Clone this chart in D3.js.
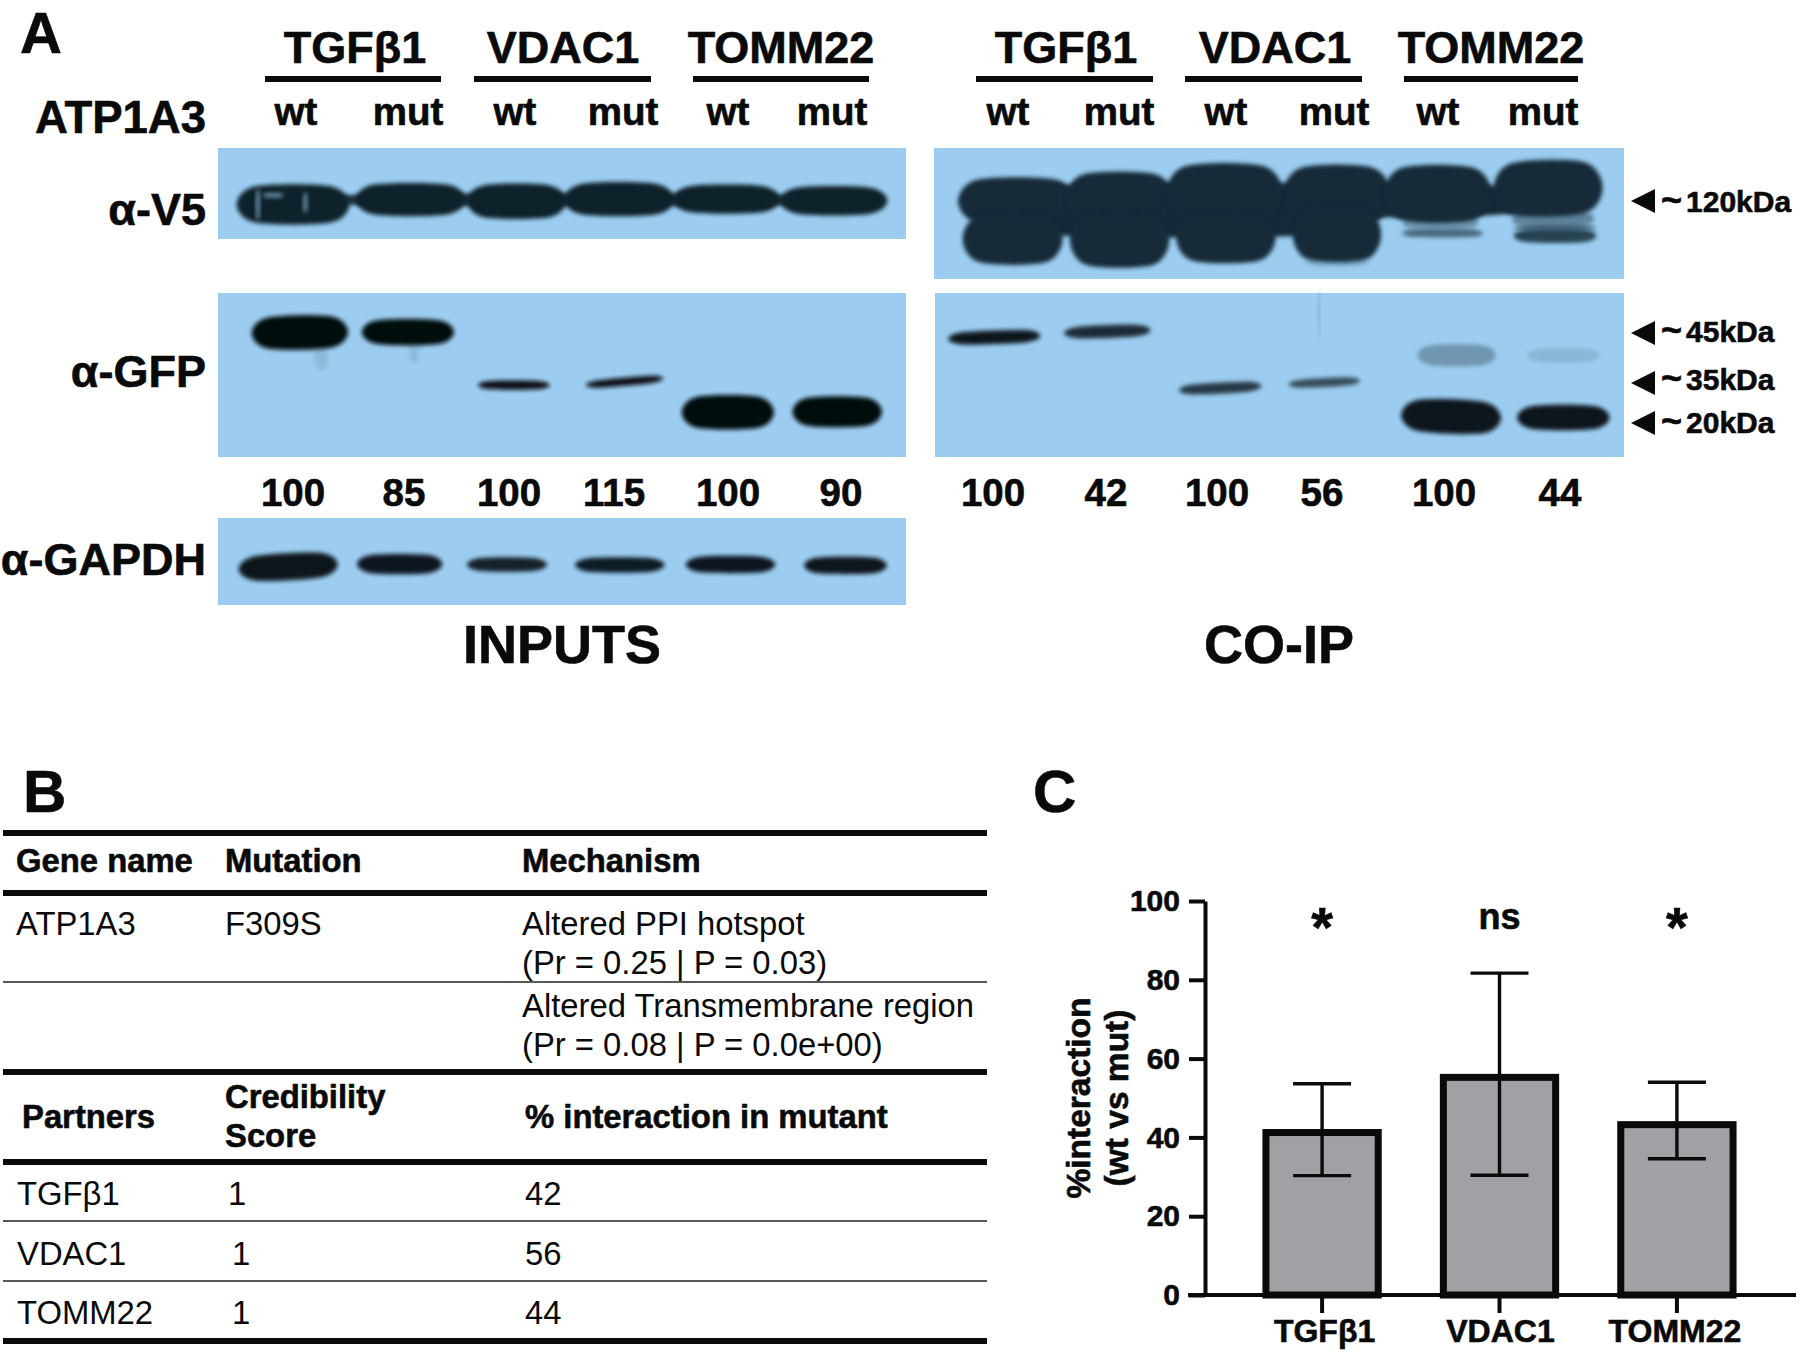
<!DOCTYPE html>
<html>
<head>
<meta charset="utf-8">
<title>ATP1A3 co-IP</title>
<script src="https://cdn.jsdelivr.net/npm/d3@7"></script>
<style>
  body { margin: 0; background: #fff; }
  svg { display: block; }
  text { font-family: "Liberation Sans", Arial, sans-serif; fill: #0a0a0a; }
  .b { font-weight: bold; stroke: #0a0a0a; stroke-width: 0.6px; }
</style>
</head>
<body>
<div id="figure"></div>
<script>
// panel A text
const partnerNames = ["TGFβ1", "VDAC1", "TOMM22"];
const laneNames = ["wt", "mut", "wt", "mut", "wt", "mut"];
const inputPercent = [100, 85, 100, 115, 100, 90];
const coipPercent = [100, 42, 100, 56, 100, 44];
const kdaLabels = ["120kDa", "45kDa", "35kDa", "20kDa"];

// blot bands, read off the picture as % of the blot:
// [lane centre, migration, band width, band thickness, density, tilt deg]
const inputV5Bands = [
  [50, 57, 84, 12, 0.9, 0],
  [10.9, 62, 16.4, 40, 1, 0],
  [28, 56.7, 16, 33, 1, 0],
  [43.4, 58.6, 14.4, 35, 1, 0],
  [58.3, 56.2, 16, 34, 1, 0],
  [73.9, 56.2, 15.6, 29, 1, 0],
  [89.5, 58, 15.6, 29, 1, 0],
  [5.8, 62, 0.5, 30, 0.25, 0],
  [12.7, 60, 0.5, 20, 0.25, 0],
  [8, 52, 3, 4, 0.3, 0]
];
const inputGfpBands = [
  [15, 40, 2, 12, 0.1, 0],
  [28.5, 36, 1.4, 12, 0.1, 0],
  [11.9, 24.1, 14, 19, 1, -1],
  [27.6, 23.9, 13.4, 14.5, 1, 0],
  [43, 56.2, 10.4, 5, 0.98, 0],
  [59.1, 54.1, 11.3, 4.5, 0.98, -5],
  [74.1, 72.7, 13.4, 19, 1, 0],
  [90, 72.4, 13, 17, 1, 0]
];
const inputGapdhBands = [
  [10.2, 56, 14.4, 28, 1, -3],
  [26.4, 53, 12.4, 21, 0.97, 0],
  [42, 53.5, 11.6, 15, 0.92, 0],
  [58.4, 54, 13, 16, 0.94, 0],
  [74.5, 53.5, 13, 18, 0.97, 0],
  [91.2, 54.5, 12, 18, 0.98, 0]
];
const coipV5Bands = [
  [58.4, 87, 9, 6, 0.2, 0],
  [73.4, 57, 11, 10, 0.35, 0],
  [89.7, 54, 12, 12, 0.45, 0],
  [50, 40, 84, 24, 1, 0],
  [36, 55, 52, 24, 1, 0],
  [12, 40.6, 17, 33, 1, 0],
  [26.9, 38.6, 15.6, 37, 1, 0],
  [42.1, 35.3, 17, 43, 1, 0],
  [58.4, 36, 15.6, 42, 1, 0],
  [73, 35, 15.6, 40, 1, 0],
  [89, 30.7, 15.8, 39, 1, -1],
  [11.4, 69.3, 14.5, 36, 1, 0],
  [26.9, 70.3, 14.4, 38, 1, 0],
  [42.3, 68.6, 14.4, 35, 1, 0],
  [58.4, 66, 12.8, 38, 1, 0],
  [73.7, 65, 11.8, 6, 0.62, 0],
  [90, 67, 12, 10, 0.85, 0],
  [90, 61, 12, 3, 0.8, 0]
];
const coipGfpBands = [
  [8.6, 27, 13.4, 7.5, 0.98, -2],
  [25, 23.5, 12.6, 7, 0.88, -2],
  [41.4, 58, 12, 6, 0.8, -3],
  [56.5, 54.6, 10.4, 5, 0.7, -3],
  [75.7, 38, 11.4, 12, 0.3, 0],
  [91.2, 38, 10.6, 8, 0.12, 0],
  [74.9, 75.3, 14.5, 19, 1, 2],
  [91.2, 75.9, 13.4, 14, 1, 0],
  [55.7, 13, 0.2, 26, 0.3, 0]
];

// panel B table
const tableHead1 = ["Gene name", "Mutation", "Mechanism"];
const mutationRow = ["ATP1A3", "F309S"];
const mechanismLines = [
  "Altered PPI hotspot",
  "(Pr = 0.25 | P = 0.03)",
  "Altered Transmembrane region",
  "(Pr = 0.08 | P = 0.0e+00)"
];
const tableHead2 = ["Partners", "Credibility", "Score", "% interaction in mutant"];
const credibility = [1, 1, 1];

// panel C bars
const interaction = [42, 56, 44];
const errLow = [30.3, 30.4, 34.6];
const errHigh = [53.6, 81.7, 54];
const significance = ["*", "ns", "*"];
const yTicks = [0, 20, 40, 60, 80, 100];

const blotBlue = "#9ccdf0";
const svg = d3.select("#figure").append("svg")
    .attr("width", 1800)
    .attr("height", 1354);

const defs = svg.append("defs");
defs.append("filter").attr("id", "soft")
    .attr("x", "-60%").attr("y", "-80%").attr("width", "220%").attr("height", "260%")
    .append("feGaussianBlur").attr("stdDeviation", 2.2);

function label(txt, x, y, size, opts) {
    opts = opts || {};
    return svg.append("text")
        .attr("class", opts.bold === false ? null : "b")
        .attr("x", x)
        .attr("y", y)
        .attr("font-size", size)
        .attr("text-anchor", opts.anchor || "middle")
        .text(txt);
}

// lens shaped band outline
const bandLine = d3.line().curve(d3.curveCardinalClosed.tension(0.1));
function bandPath(w, h) {
    return bandLine([[-w / 2, 0], [-w * 0.33, -h / 2], [w * 0.33, -h / 2],
        [w / 2, 0], [w * 0.33, h / 2], [-w * 0.33, h / 2]]);
}

function addBlot(x0, x1, y0, y1, bands, ink) {
    const g = svg.append("g");
    g.append("rect")
        .attr("x", x0).attr("y", y0)
        .attr("width", x1 - x0).attr("height", y1 - y0)
        .attr("fill", blotBlue);
    const x = d3.scaleLinear().domain([0, 100]).range([x0, x1]);
    const y = d3.scaleLinear().domain([0, 100]).range([y0, y1]);
    const shade = d3.interpolateRgb(blotBlue, ink);
    g.selectAll("path")
        .data(bands)
        .join("path")
        .attr("d", d => bandPath(x(d[2]) - x0, y(d[3]) - y0))
        .attr("transform", d => `translate(${x(d[0])},${y(d[1])}) rotate(${d[5]})`)
        .attr("fill", d => shade(d[4]))
        .attr("filter", "url(#soft)");
}

addBlot(218, 906, 148, 239, inputV5Bands, "#0e2029");
addBlot(218, 906, 293, 457, inputGfpBands, "#060c10");
addBlot(218, 906, 518, 605, inputGapdhBands, "#08131a");
addBlot(934, 1624, 148, 279, coipV5Bands, "#122a37");
addBlot(935, 1624, 293, 457, coipGfpBands, "#08131a");

// panel A labels
label("A", 20, 52.5, 58, { anchor: "start" });
label("ATP1A3", 206, 133, 45.5, { anchor: "end" });
label("α-V5", 206, 225, 45, { anchor: "end" });
label("α-GFP", 206, 387, 45, { anchor: "end" });
label("α-GAPDH", 206, 575, 45, { anchor: "end" });
label("INPUTS", 562, 663, 54);
label("CO-IP", 1279, 663, 54);

const headerX = [[355, 563, 781], [1066, 1275, 1491]];
const barX = [[[265, 441], [474, 651], [693, 869]], [[976, 1153], [1185, 1362], [1404, 1578]]];
const wtX = [[296, 408, 515, 623, 728, 832], [1008, 1119, 1226, 1334, 1438, 1543]];
const numX = [[293, 404, 509, 614, 728, 841], [993, 1106, 1217, 1322, 1444, 1560]];
[inputPercent, coipPercent].forEach((pct, s) => {
    partnerNames.forEach((p, i) => {
        label(p, headerX[s][i], 63, 45);
        svg.append("rect")
            .attr("x", barX[s][i][0]).attr("y", 76)
            .attr("width", barX[s][i][1] - barX[s][i][0]).attr("height", 6)
            .attr("fill", "#0a0a0a");
    });
    laneNames.forEach((n, i) => {
        label(n, wtX[s][i], 125, 38.5);
        label(pct[i], numX[s][i], 506, 38.5);
    });
});

// kDa markers
const kdaTip = [201, 333, 383, 423];
const kdaBase = [212, 342, 390, 433];
kdaLabels.forEach((k, i) => {
    svg.append("path")
        .attr("d", d3.line()([[1631, kdaTip[i]], [1655, kdaTip[i] - 12], [1655, kdaTip[i] + 12]]))
        .attr("fill", "#0a0a0a");
    const t = label("", 1661, kdaBase[i], 30, { anchor: "start" });
    t.append("tspan").attr("font-size", 36).text("~");
    t.append("tspan").attr("dx", 4).text(k);
});

// panel B
label("B", 23, 812, 60, { anchor: "start" });
const thick = [833, 893, 1072, 1162, 1341];
const thin = [982, 1221, 1281];
thick.forEach(y => svg.append("line")
    .attr("x1", 3).attr("x2", 987).attr("y1", y).attr("y2", y)
    .attr("stroke", "#0a0a0a").attr("stroke-width", 6));
thin.forEach(y => svg.append("line")
    .attr("x1", 3).attr("x2", 987).attr("y1", y).attr("y2", y)
    .attr("stroke", "#222").attr("stroke-width", 1.6));

const colX = [16, 225, 522];
tableHead1.forEach((t, i) => label(t, colX[i], 872, 32.8, { anchor: "start" }));
mutationRow.forEach((t, i) => label(t, colX[i], 935, 32.8, { anchor: "start", bold: false }));
const mechY = [935, 974, 1017, 1056];
mechanismLines.forEach((t, i) => label(t, colX[2], mechY[i], 32.8, { anchor: "start", bold: false }));
label(tableHead2[0], 22, 1128, 32.8, { anchor: "start" });
label(tableHead2[1], 225, 1108, 32.8, { anchor: "start" });
label(tableHead2[2], 225, 1147, 32.8, { anchor: "start" });
label(tableHead2[3], 525, 1128, 32.8, { anchor: "start" });
const rowY = [1205, 1265, 1324];
const scoreX = [228, 232, 232];
partnerNames.forEach((p, i) => {
    label(p, 17, rowY[i], 32.8, { anchor: "start", bold: false });
    label(credibility[i], scoreX[i], rowY[i], 32.8, { anchor: "start", bold: false });
    label(interaction[i], 525, rowY[i], 32.8, { anchor: "start", bold: false });
});

// panel C
label("C", 1033, 812, 60, { anchor: "start" });
const x = d3.scaleBand().domain(partnerNames).range([1234, 1765]).paddingInner(0.367).paddingOuter(0.18);
const y = d3.scaleLinear().domain([0, 100]).range([1295, 901]);
const barStroke = 7;

const chart = svg.append("g");
chart.selectAll("rect.bar")
    .data(partnerNames)
    .join("rect")
    .attr("class", "bar")
    .attr("x", d => x(d))
    .attr("width", x.bandwidth())
    .attr("y", (d, i) => y(interaction[i]) + 3)
    .attr("height", (d, i) => y(0) - y(interaction[i]) - 3)
    .attr("fill", "#a0a1a5")
    .attr("stroke", "#0a0a0a")
    .attr("stroke-width", barStroke);

partnerNames.forEach((p, i) => {
    const cx = x(p) + x.bandwidth() / 2;
    const err = chart.append("g").attr("stroke", "#0a0a0a").attr("stroke-width", 3.4);
    err.append("line").attr("x1", cx).attr("x2", cx).attr("y1", y(errLow[i])).attr("y2", y(errHigh[i]));
    [errLow[i], errHigh[i]].forEach(v => err.append("line")
        .attr("x1", cx - 29).attr("x2", cx + 29).attr("y1", y(v)).attr("y2", y(v)));
    const star = significance[i] == "*";
    label(significance[i], cx, star ? 946 : 929, star ? 56 : 36);
});

const yAxis = chart.append("g")
    .attr("transform", "translate(1205,0)")
    .call(d3.axisLeft(y).tickValues(yTicks).tickSize(16).tickPadding(9).tickSizeOuter(0));
yAxis.select(".domain").attr("stroke", "#0a0a0a").attr("stroke-width", 4);
yAxis.selectAll(".tick line").attr("stroke", "#0a0a0a").attr("stroke-width", 4);
yAxis.selectAll(".tick text")
    .attr("class", "b")
    .attr("font-size", 30)
    .attr("font-family", null);

const xAxis = chart.append("g")
    .attr("transform", "translate(0,1295)")
    .call(d3.axisBottom(x).tickSize(18).tickPadding(6).tickSizeOuter(0));
xAxis.select(".domain").remove();
xAxis.selectAll(".tick line").attr("stroke", "#0a0a0a").attr("stroke-width", 4);
const labelNudge = [2.5, 1, -2];
xAxis.selectAll(".tick text")
    .attr("class", "b")
    .attr("font-size", 32)
    .attr("font-family", null)
    .attr("dx", (d, i) => labelNudge[i]);
chart.append("line")
    .attr("x1", 1188).attr("x2", 1796).attr("y1", 1295).attr("y2", 1295)
    .attr("stroke", "#0a0a0a").attr("stroke-width", 4);

const yTitle = chart.append("g").attr("transform", "translate(0,1098) rotate(-90)");
yTitle.append("text").attr("class", "b").attr("x", 0).attr("y", 1090)
    .attr("font-size", 33.5).attr("text-anchor", "middle").text("%interaction");
yTitle.append("text").attr("class", "b").attr("x", 0).attr("y", 1128)
    .attr("font-size", 33.5).attr("text-anchor", "middle").text("(wt vs mut)");
</script>
</body>
</html>
